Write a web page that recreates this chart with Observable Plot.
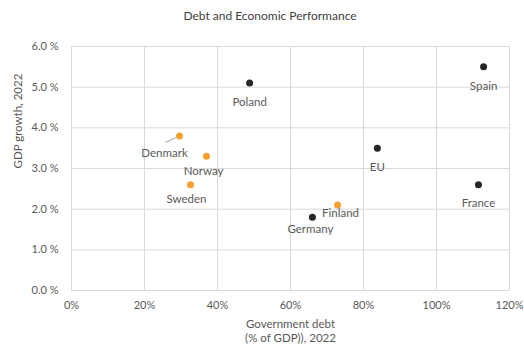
<!DOCTYPE html>
<html>
<head>
<meta charset="utf-8">
<script src="https://cdn.jsdelivr.net/npm/d3@7"></script>
<script src="https://cdn.jsdelivr.net/npm/@observablehq/plot@0.6"></script>
<style>
  html, body { margin: 0; padding: 0; background: #fff; }
  #title { width: 508px; padding-left: 16px; height: 30px; line-height: 32px; text-align: center;
           font-family: Lato, "Open Sans", sans-serif; font-size: 12px; color: #404040; }
  #chart svg { display: block; }
</style>
</head>
<body>
<div id="title">Debt and Economic Performance</div>
<div id="chart"></div>
<script>
const countries = ["Poland", "Spain", "EU", "France", "Germany", "Finland", "Denmark", "Norway", "Sweden"];
const debt = [48.8, 112.9, 83.8, 111.5, 66.0, 72.9, 29.6, 37.0, 32.6];
const growth = [5.1, 5.5, 3.5, 2.6, 1.8, 2.1, 3.8, 3.3, 2.6];
const groups = ["Other", "Other", "Other", "Other", "Other", "Nordic", "Nordic", "Nordic", "Nordic"];
const xTicks = [0, 20, 40, 60, 80, 100, 120];
const yTicks = [0, 1, 2, 3, 4, 5, 6];

const data = countries.map((c, i) => ({country: c, debt: debt[i], growth: growth[i], group: groups[i]}));
const only = (names) => data.filter(d => names.includes(d.country));

const font = "Lato, 'Open Sans', sans-serif";
const grey = "#595959";

const leader = {draw(ctx, l) { ctx.moveTo(0, -4); ctx.lineTo(0, -l); }};

const chart = Plot.plot({
  width: 524,
  height: 314,
  marginTop: 16,
  marginBottom: 54,
  marginLeft: 71,
  marginRight: 15,
  style: {fontFamily: font, fontSize: "11px", color: grey, background: "#fff"},
  x: {domain: [0, 120], ticks: xTicks, tickFormat: d => d + "%"},
  y: {domain: [0, 6], ticks: yTicks, tickFormat: d => d.toFixed(1) + " %"},
  color: {domain: ["Other", "Nordic"], range: ["#262626", "#f5a031"]},
  marks: [
    Plot.gridX(xTicks, {stroke: "#d9d9d9", strokeOpacity: 1}),
    Plot.gridY(yTicks, {stroke: "#d9d9d9", strokeOpacity: 1}),
    Plot.axisX(xTicks, {tickSize: 0, tickPadding: 11, label: null, fill: grey, tickFormat: d => d + "%"}),
    Plot.axisY(yTicks, {tickSize: 0, tickPadding: 13, label: null, fill: grey, tickFormat: d => d.toFixed(1) + " %"}),
    Plot.text(["Government debt\n(% of GDP)), 2022"], {frameAnchor: "bottom", lineAnchor: "middle", dy: 40, lineHeight: 1.27, fill: grey, fontSize: 11.5}),
    Plot.text(["GDP growth, 2022"], {frameAnchor: "left", lineAnchor: "middle", dx: -53, rotate: -90, fill: grey, fontSize: 11.5}),
    Plot.vector(only(["Denmark"]), {x: "debt", y: "growth", anchor: "start", length: 15, rotate: 245, shape: leader, stroke: "#a6a6a6", strokeWidth: 1}),
    Plot.text(only(["Poland", "Spain", "EU", "France"]), {x: "debt", y: "growth", text: "country", dy: 19, fill: grey, fontSize: 11.5}),
    Plot.text(only(["Germany"]), {x: "debt", y: "growth", text: "country", dx: -2, dy: 12, fill: grey, fontSize: 11.5}),
    Plot.text(only(["Finland"]), {x: "debt", y: "growth", text: "country", dx: 3, dy: 8, fill: grey, fontSize: 11.5}),
    Plot.text(only(["Norway"]), {x: "debt", y: "growth", text: "country", dx: -3, dy: 15, fill: grey, fontSize: 11.5}),
    Plot.text(only(["Sweden"]), {x: "debt", y: "growth", text: "country", dx: -4, dy: 15, fill: grey, fontSize: 11.5}),
    Plot.text(only(["Denmark"]), {x: "debt", y: "growth", text: "country", dx: -15, dy: 17, fill: grey, fontSize: 11.5}),
    Plot.dot(data, {x: "debt", y: "growth", fill: "group", r: 3.5})
  ]
});
document.getElementById("chart").appendChild(chart);
</script>
</body>
</html>
